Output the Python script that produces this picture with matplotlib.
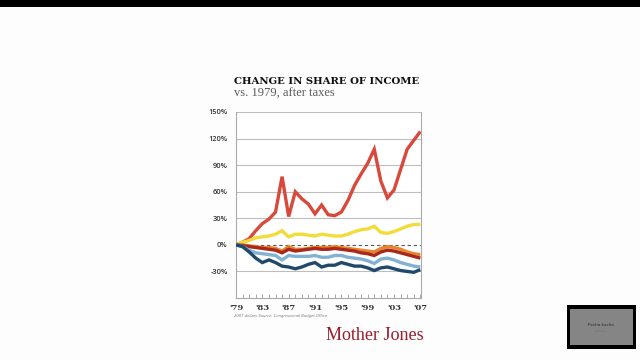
import matplotlib
matplotlib.use('Agg')
import matplotlib.pyplot as plt
from matplotlib.patches import Rectangle

years = list(range(1979, 2008))

# change in share of after-tax income vs. 1979, percent
top_1 = [0, 3, 7, 16, 24, 29, 37, 77, 32, 60, 52, 46, 35, 45, 34, 33, 37,
         50, 67, 80, 92, 108, 72, 53, 62, 85, 108, 118, 128]
next_19 = [0, 3, 5, 8, 9, 10, 12, 16, 9, 12, 12, 11, 10, 12, 11, 10, 10,
           12, 15, 17, 18, 21, 14, 13, 15, 18, 21, 23, 23]
fourth_fifth = [0, 0, -1, -2, -3, -3, -4, -7, -2, -5, -5, -4, -3, -3, -3, -2, -3,
                -4, -5, -6, -7, -8, -4, -2, -3, -5, -8, -10, -11]
middle_fifth = [0, -1, -2, -3, -4, -5, -6, -9, -5, -7, -6, -5, -4, -5, -5, -4, -5,
                -6, -7, -9, -10, -12, -8, -6, -7, -9, -11, -13, -15]
second_fifth = [0, -2, -6, -9, -10, -11, -12, -17, -12, -13, -13, -13, -12, -14, -14, -12, -12,
                -14, -15, -16, -18, -21, -16, -15, -17, -20, -22, -24, -25]
bottom_fifth = [0, -2, -8, -15, -20, -17, -20, -24, -25, -27, -25, -22, -20, -25, -23, -23, -20,
                -22, -24, -24, -26, -29, -26, -25, -27, -29, -30, -31, -28]

y_ticks = [-30, 0, 30, 60, 90, 120, 150]
y_labels = ['-30%', '0%', '30%', '60%', '90%', '120%', '150%']
x_ticks = [1979, 1983, 1987, 1991, 1995, 1999, 2003, 2007]
x_labels = ["'79", "'83", "'87", "'91", "'95", "'99", "'03", "'07"]

series = [
    (top_1, '#d8493c'),
    (next_19, '#f1dc3a'),
    (fourth_fifth, '#e8852c'),
    (middle_fifth, '#a8281d'),
    (second_fifth, '#82b2d1'),
    (bottom_fifth, '#1f4a6b'),
]

fig = plt.figure(figsize=(6.4, 3.6), dpi=100)
fig.patch.set_facecolor('#fdfdfd')

# black bar across the top of the slide
fig.patches.append(Rectangle((0, 1 - 7 / 360), 1, 7 / 360, transform=fig.transFigure,
                             facecolor='black', edgecolor='none'))

# slide thumbnail, bottom right
fig.patches.append(Rectangle((567 / 640, 1 - 349 / 360), 69 / 640, 44 / 360,
                             transform=fig.transFigure, facecolor='black',
                             edgecolor='none'))
fig.patches.append(Rectangle((570 / 640, 1 - 345 / 360), 63 / 640, 36 / 360,
                             transform=fig.transFigure, facecolor='#858585',
                             edgecolor='none'))
fig.text(601 / 640, 1 - 325 / 360, 'Pecha kucha', fontsize=3, color='#2a2a2a',
         ha='center', va='center')
fig.text(601 / 640, 1 - 331 / 360, '—— ——\n———————', fontsize=1.5, color='#444444',
         ha='center', va='center', linespacing=1.2)

ax = fig.add_axes([236 / 640, 1 - 298 / 360, 185 / 640, 186 / 360])
ax.set_facecolor('white')

for vals, col in series:
    ax.plot(years, vals, color=col, linewidth=2.4, solid_capstyle='butt',
            solid_joinstyle='miter', zorder=3)

ax.axhline(0, color='#555555', linewidth=0.8, linestyle=(0, (3, 2.5)), zorder=2)
for t in [-30, 30, 60, 90, 120, 150]:
    ax.axhline(t, color='#bdbdbd', linewidth=0.8, zorder=1)

ax.set_xlim(1979, 2007.1)
ax.set_ylim(-60, 150)

ax.set_yticks(y_ticks)
ax.set_yticklabels(y_labels, fontsize=5.3, family='Open Sans', fontweight='semibold',
                   color='#333333')
ax.set_xticks(x_ticks)
ax.set_xticklabels(x_labels, fontsize=6, family='DejaVu Serif', fontweight='bold',
                   color='#333333')
ax.set_xticks(years, minor=True)
ax.tick_params(axis='y', length=0, pad=6)
ax.tick_params(axis='x', which='both', direction='in', length=3, width=0.6,
               color='#999999', pad=4)

for side in ['left', 'right', 'bottom']:
    ax.spines[side].set_color('#aaaaaa')
    ax.spines[side].set_linewidth(0.8)
ax.spines['top'].set_visible(False)

fig.text(234 / 640, 1 - 81 / 360, 'CHANGE IN SHARE OF INCOME', fontsize=7.3,
         family='DejaVu Serif', fontweight='bold', color='#111111', va='center')
fig.text(234 / 640, 1 - 94 / 360, 'vs. 1979, after taxes', fontsize=9,
         family='Liberation Serif', color='#5a5a5a', va='center')
fig.text(234 / 640, 1 - 316 / 360, '2007 dollars Source: Congressional Budget Office',
         fontsize=2.7, style='italic', color='#777777', va='center')
fig.text(424 / 640, 1 - 335 / 360, 'Mother Jones', fontsize=13,
         family='Liberation Serif', color='#9c1c2b', ha='right', va='center')

fig.savefig('out.png', dpi=100, facecolor=fig.get_facecolor())
